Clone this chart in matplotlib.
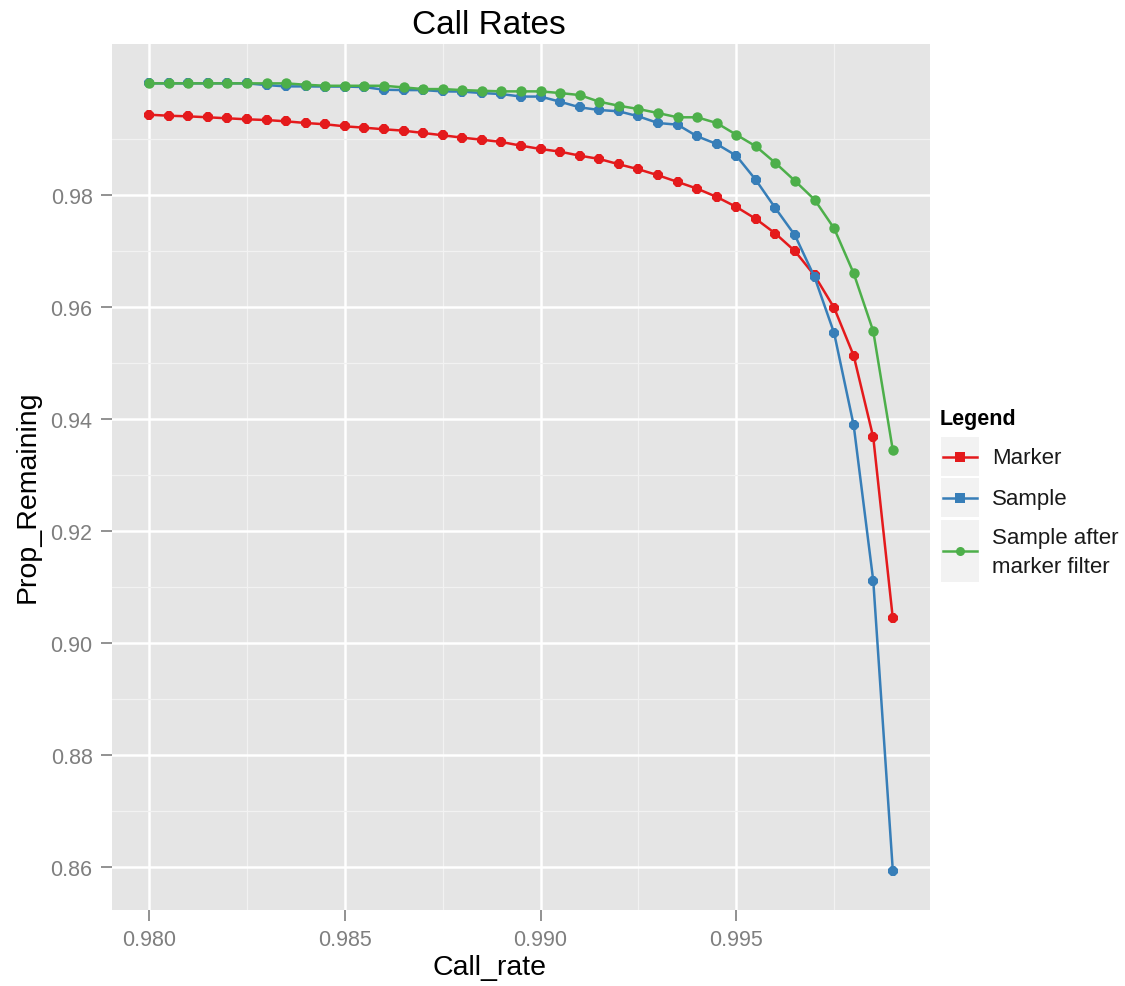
import numpy as np
import matplotlib
matplotlib.use("Agg")
import matplotlib.pyplot as plt
from matplotlib.lines import Line2D
from matplotlib.patches import Rectangle

call_rate = [round(0.980 + 0.0005 * i, 4) for i in range(39)]

marker = [0.99432, 0.99414, 0.99403, 0.99386, 0.99368, 0.99350, 0.99337, 0.99314, 0.99284, 0.99261,
          0.99225, 0.99200, 0.99172, 0.99147, 0.99106, 0.99065, 0.99022, 0.98986, 0.98945, 0.98879,
          0.98820, 0.98772, 0.98701, 0.98642, 0.98547, 0.98458, 0.98351, 0.98232, 0.98112, 0.97964,
          0.97786, 0.97572, 0.97310, 0.96996, 0.96561, 0.95985, 0.95129, 0.93672, 0.90439]

sample = [0.99992, 0.99992, 0.99992, 0.99992, 0.99992, 0.99992, 0.99961, 0.99938, 0.99938, 0.99935,
          0.99935, 0.99926, 0.99878, 0.99872, 0.99872, 0.99849, 0.99845, 0.99819, 0.99801, 0.99756,
          0.99756, 0.99664, 0.99564, 0.99516, 0.99493, 0.99403, 0.99284, 0.99254, 0.99047, 0.98909,
          0.98701, 0.98267, 0.97763, 0.97278, 0.96532, 0.95534, 0.93886, 0.91112, 0.85933]

sample_after = [0.99992, 0.99992, 0.99992, 0.99992, 0.99992, 0.99992, 0.99992, 0.99992, 0.99967, 0.99949,
                0.99949, 0.99949, 0.99949, 0.99920, 0.99890, 0.99890, 0.99872, 0.99860, 0.99849, 0.99849,
                0.99849, 0.99819, 0.99783, 0.99664, 0.99592, 0.99534, 0.99462, 0.99386, 0.99386, 0.99284,
                0.99075, 0.98868, 0.98571, 0.98250, 0.97916, 0.97403, 0.96600, 0.95566, 0.93441]

series_names = ["Marker", "Sample", "Sample after\nmarker filter"]
colors = ["#E41A1C", "#377EB8", "#4DAF4A"]
markers = ["s", "s", "o"]
x_ticks = [0.980, 0.985, 0.990, 0.995]
x_tick_labels = ["0.980", "0.985", "0.990", "0.995"]
y_ticks = [0.86, 0.88, 0.90, 0.92, 0.94, 0.96, 0.98]
y_tick_labels = ["0.86", "0.88", "0.90", "0.92", "0.94", "0.96", "0.98"]

plt.rcParams['font.family'] = ['Liberation Sans', 'DejaVu Sans']

W, H = 1125, 987
fig = plt.figure(figsize=(W / 100, H / 100), dpi=100)
L, R, T, B = 112, 930, 45, 911
ax = fig.add_axes([L / W, 1 - B / H, (R - L) / W, (B - T) / H])
ax.set_facecolor("#E5E5E5")
for s in ax.spines.values():
    s.set_visible(False)

allv = marker + sample + sample_after
ymin, ymax = min(allv), max(allv)
yr = ymax - ymin
xmin, xmax = min(call_rate), max(call_rate)
xr = xmax - xmin
ax.set_xlim(xmin - 0.05 * xr, xmax + 0.05 * xr)
ax.set_ylim(ymin - 0.05 * yr, ymax + 0.05 * yr)

ax.set_xticks(x_ticks)
ax.set_xticklabels(x_tick_labels)
ax.set_yticks(y_ticks)
ax.set_yticklabels(y_tick_labels)
ax.set_xticks([0.9825, 0.9875, 0.9925, 0.9975], minor=True)
ax.set_yticks([0.87, 0.89, 0.91, 0.93, 0.95, 0.97, 0.99], minor=True)
ax.grid(which="major", color="white", linewidth=1.8)
ax.grid(which="minor", color="#F2F2F2", linewidth=0.9)
ax.set_axisbelow(True)
ax.tick_params(which="major", direction="out", length=8, width=1.2, color="#7F7F7F",
               labelcolor="#7F7F7F", labelsize=15.5, pad=6)
ax.tick_params(which="minor", length=0)

plot_markers = ["8", "8", "o"]
for yv, c, m in zip([marker, sample, sample_after], colors, plot_markers):
    ax.plot(call_rate, yv, color=c, linewidth=1.8, marker=m, markersize=7.5,
            markeredgewidth=0, zorder=3)

ax.set_xlabel("Call_rate", fontsize=20.5)
ax.set_ylabel("Prop_Remaining", fontsize=20.5)
ax.xaxis.set_label_coords((490 - L) / (R - L), -(968 - B) / (B - T))
ax.xaxis.label.set_verticalalignment("center")
ax.yaxis.set_label_coords(-(L - 28) / (R - L), (B - 497) / (B - T))
ax.yaxis.label.set_verticalalignment("center")

fig.text(489 / W, 1 - 26 / H, "Call Rates", fontsize=24, ha="center", va="center")

# legend
def fx(px):
    return px / W

def fy(py):
    return 1 - py / H

fig.text(fx(940), fy(420), "Legend", fontsize=15.5, fontweight="bold", ha="left", va="center")
boxes = [(438, 477), (479, 518), (521, 583)]
for (top, bot), c, m, name in zip(boxes, colors, markers, series_names):
    fig.patches.append(Rectangle((fx(941), fy(bot)), fx(979) - fx(941), fy(top) - fy(bot),
                                 transform=fig.transFigure, facecolor="#F2F2F2",
                                 edgecolor="none"))
    cy = (top + bot) / 2
    fig.lines.append(Line2D([fx(943), fx(977)], [fy(cy), fy(cy)], transform=fig.transFigure,
                            color=c, linewidth=1.8))
    fig.lines.append(Line2D([fx(960)], [fy(cy)], transform=fig.transFigure, color=c,
                            marker=m, markersize=6.5, markeredgewidth=0))
    fig.text(fx(992), fy(cy + 1), name, fontsize=16, ha="left", va="center",
             linespacing=1.45, color="#1A1A1A")

fig.savefig("out.png", dpi=100)
